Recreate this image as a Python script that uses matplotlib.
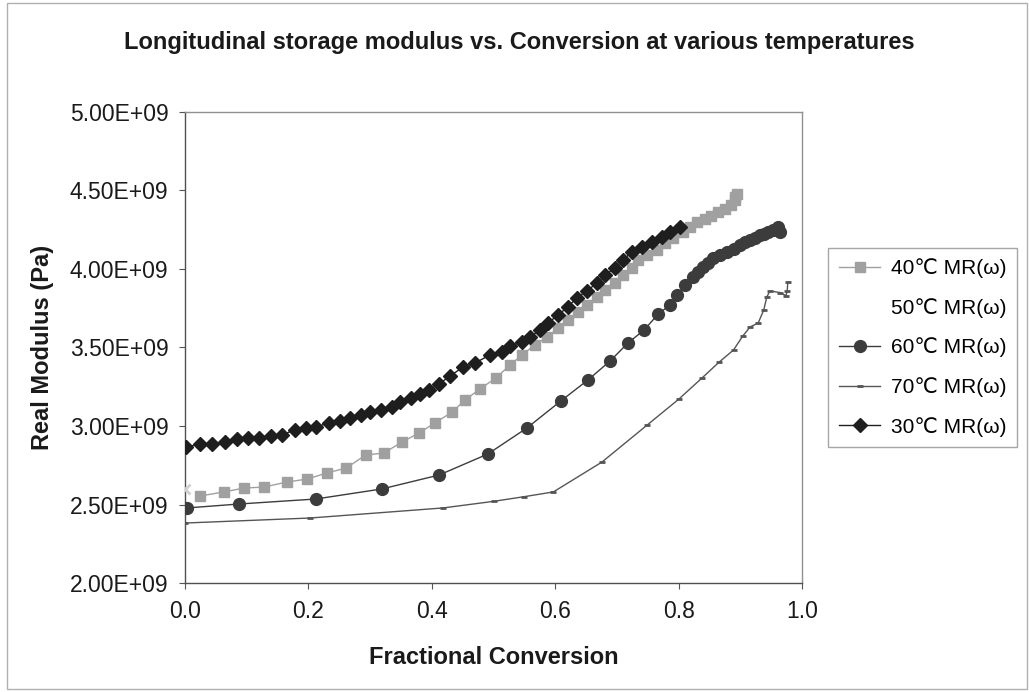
import matplotlib
matplotlib.use("Agg")
from matplotlib import pyplot as plt
from matplotlib import ticker
from matplotlib.lines import Line2D
from matplotlib.patches import Rectangle

plt.rcParams['font.family'] = ['Liberation Sans', 'DejaVu Sans']

# fractional conversion / real modulus (units of 1e9 Pa)
conv_30 = [0.002, 0.024, 0.044, 0.065, 0.084, 0.102, 0.120, 0.139, 0.157, 0.178,
           0.196, 0.212, 0.233, 0.251, 0.267, 0.285, 0.300, 0.318, 0.335, 0.348,
           0.366, 0.381, 0.395, 0.412, 0.430, 0.451, 0.470, 0.494, 0.514, 0.527,
           0.546, 0.559, 0.575, 0.588, 0.605, 0.620, 0.635, 0.651, 0.668, 0.681,
           0.697, 0.710, 0.724, 0.741, 0.757, 0.773, 0.786, 0.802]
mod_30 = [2.866, 2.885, 2.885, 2.898, 2.917, 2.924, 2.924, 2.936, 2.943, 2.975,
          2.987, 2.994, 3.019, 3.032, 3.051, 3.070, 3.089, 3.102, 3.121, 3.153,
          3.178, 3.204, 3.229, 3.268, 3.320, 3.376, 3.401, 3.452, 3.471, 3.510,
          3.535, 3.567, 3.611, 3.656, 3.707, 3.758, 3.815, 3.860, 3.911, 3.962,
          4.006, 4.057, 4.108, 4.140, 4.172, 4.204, 4.236, 4.268]

conv_40 = [0.024, 0.063, 0.096, 0.128, 0.165, 0.198, 0.230, 0.261, 0.293, 0.322,
           0.352, 0.379, 0.405, 0.433, 0.454, 0.478, 0.504, 0.527, 0.546, 0.567,
           0.587, 0.605, 0.621, 0.637, 0.652, 0.668, 0.681, 0.697, 0.710, 0.724,
           0.734, 0.749, 0.765, 0.778, 0.791, 0.807, 0.818, 0.830, 0.842, 0.853,
           0.864, 0.875, 0.885, 0.892, 0.894, 0.891]
mod_40 = [2.554, 2.580, 2.605, 2.611, 2.643, 2.662, 2.701, 2.732, 2.815, 2.828,
          2.898, 2.955, 3.019, 3.089, 3.166, 3.236, 3.306, 3.389, 3.452, 3.516,
          3.567, 3.624, 3.675, 3.726, 3.771, 3.822, 3.866, 3.911, 3.962, 4.006,
          4.057, 4.089, 4.121, 4.166, 4.197, 4.236, 4.270, 4.299, 4.320, 4.340,
          4.360, 4.380, 4.410, 4.440, 4.480, 4.460]

conv_50 = [0.0]
mod_50 = [2.60]

conv_60 = [0.003, 0.087, 0.212, 0.319, 0.412, 0.491, 0.554, 0.609, 0.653, 0.689,
           0.718, 0.744, 0.767, 0.786, 0.798, 0.810, 0.823, 0.831, 0.840, 0.848,
           0.856, 0.867, 0.878, 0.889, 0.899, 0.908, 0.916, 0.924, 0.932, 0.939,
           0.945, 0.953, 0.961, 0.964]
mod_60 = [2.478, 2.503, 2.535, 2.599, 2.688, 2.822, 2.987, 3.159, 3.293, 3.414,
          3.529, 3.611, 3.713, 3.771, 3.834, 3.898, 3.949, 3.980, 4.013, 4.040,
          4.070, 4.090, 4.108, 4.130, 4.153, 4.170, 4.185, 4.200, 4.217, 4.225,
          4.236, 4.250, 4.268, 4.235]

conv_70 = [0.0, 0.203, 0.418, 0.50, 0.55, 0.597, 0.676, 0.749, 0.800, 0.838,
           0.866, 0.889, 0.904, 0.916, 0.929, 0.938, 0.943, 0.948, 0.964, 0.974,
           0.976, 0.977]
mod_70 = [2.382, 2.414, 2.478, 2.520, 2.550, 2.580, 2.771, 3.006, 3.170, 3.306,
          3.408, 3.484, 3.573, 3.631, 3.656, 3.739, 3.822, 3.860, 3.850, 3.830,
          3.860, 3.917]

labels = ['40\u2103 MR(\u03c9)', '50\u2103 MR(\u03c9)', '60\u2103 MR(\u03c9)',
          '70\u2103 MR(\u03c9)', '30\u2103 MR(\u03c9)']

fig = plt.figure(figsize=(10.29, 6.92), dpi=100)
ax = fig.add_axes([0.1798, 0.1575, 0.5996, 0.6807])


def scaled(vals):
    return [v * 1e9 for v in vals]


ax.plot(conv_70, scaled(mod_70), color='#555555', lw=1.0,
        marker='_', ms=5, mew=2, zorder=2)
ax.plot(conv_60, scaled(mod_60), color='#3c3c3c', lw=1.0,
        marker='o', ms=8.5, mec='#3c3c3c', mfc='#3c3c3c', zorder=3)
ax.plot(conv_40, scaled(mod_40), color='#a0a0a0', lw=1.0,
        marker='s', ms=7, mec='#a0a0a0', mfc='#a0a0a0', zorder=3)
ax.plot(conv_50, scaled(mod_50), ls='none', marker='x', ms=7, mew=2,
        color='#d0d0d0', zorder=4)
ax.plot(conv_30, scaled(mod_30), color='#1e1e1e', lw=1.0,
        marker='D', ms=7.5, mec='#1e1e1e', mfc='#1e1e1e', zorder=4)

ax.set_xlim(0, 1)
ax.set_ylim(2e9, 5e9)
ax.xaxis.set_major_locator(ticker.MultipleLocator(0.2))
ax.yaxis.set_major_locator(ticker.MultipleLocator(0.5e9))
ax.xaxis.set_major_formatter(ticker.FormatStrFormatter('%.1f'))
ax.yaxis.set_major_formatter(ticker.FormatStrFormatter('%.2E'))
ax.tick_params(axis='both', direction='out', length=4, width=0.8,
               colors='#555555', labelcolor='#1a1a1a', labelsize=16.5, pad=8)

for side in ['left', 'bottom']:
    ax.spines[side].set_color('#505050')
    ax.spines[side].set_linewidth(1.0)
for side in ['top', 'right']:
    ax.spines[side].set_color('#909090')
    ax.spines[side].set_linewidth(1.0)

fig.text(0.505, 0.939, 'Longitudinal storage modulus vs. Conversion at various temperatures',
         ha='center', va='center', fontsize=17, fontweight='bold', color='#1a1a1a')
fig.text(0.480, 0.050, 'Fractional Conversion', ha='center', va='center',
         fontsize=17, fontweight='bold', color='#1a1a1a')
fig.text(0.041, 0.498, 'Real Modulus (Pa)', ha='center', va='center',
         rotation=90, fontsize=17, fontweight='bold', color='#1a1a1a')

handles = [
    Line2D([], [], color='#a0a0a0', lw=1.0, marker='s', ms=7),
    Line2D([], [], color='none', lw=0),
    Line2D([], [], color='#3c3c3c', lw=1.0, marker='o', ms=8.5),
    Line2D([], [], color='#555555', lw=1.0, marker='_', ms=5, mew=2),
    Line2D([], [], color='#1e1e1e', lw=1.0, marker='D', ms=7.5),
]
leg = fig.legend(handles, labels, loc='upper left',
                 bbox_to_anchor=(0.805, 0.642), borderaxespad=0, fontsize=15,
                 frameon=True, fancybox=False, handlelength=2.0,
                 handletextpad=0.5, labelspacing=0.95, borderpad=0.5)
leg.get_frame().set_edgecolor('#909090')
leg.get_frame().set_linewidth(1.0)

fig.patches.append(Rectangle((0.007, 0.004), 0.991, 0.992, transform=fig.transFigure,
                             fill=False, edgecolor='#b0b0b0', lw=1.0))

fig.savefig('out.png', dpi=100)
